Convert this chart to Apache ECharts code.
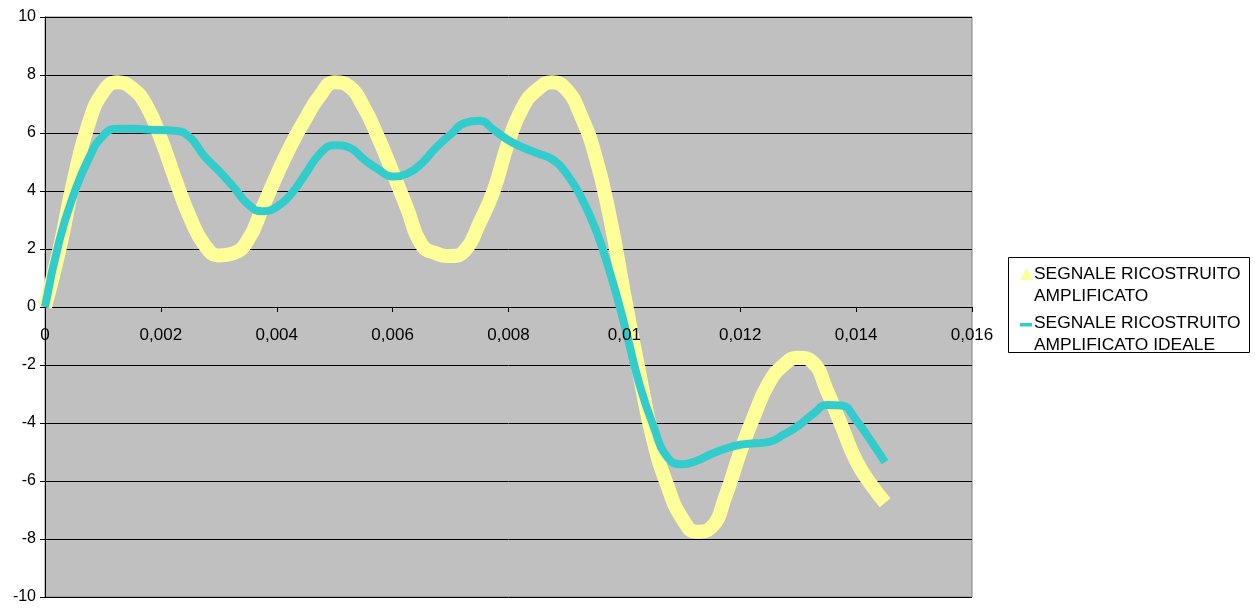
<!DOCTYPE html>
<html>
<head>
<meta charset="utf-8">
<script src="https://cdn.jsdelivr.net/npm/echarts@6/dist/echarts.min.js"></script>
<style>
html,body{margin:0;padding:0;background:#fff;}
#c{width:1255px;height:612px;}
</style>
</head>
<body>
<div id="c"></div>
<script>
// time samples (s)
const times = [0,0.00025,0.0005,0.00075,0.001,0.00125,0.0015,0.00175,0.002,0.00225,0.0025,0.00275,0.003,0.00325,0.0035,0.00375,0.004,0.00425,0.0045,0.00475,0.005,0.00525,0.0055,0.00575,0.006,0.00625,0.0065,0.00675,0.007,0.00725,0.0075,0.00775,0.008,0.00825,0.0085,0.00875,0.009,0.00925,0.0095,0.00975,0.01,0.01025,0.0105,0.01075,0.011,0.01125,0.0115,0.01175,0.012,0.01225,0.0125,0.01275,0.013,0.01325,0.0135,0.01375,0.014,0.01425,0.0145];
// SEGNALE RICOSTRUITO AMPLIFICATO
const amplified = [0,2.0,4.4,6.3,7.4,7.75,7.55,6.95,5.8,4.4,3.1,2.15,1.78,1.85,2.3,3.4,4.55,5.6,6.5,7.3,7.75,7.6,6.9,5.85,4.65,3.4,2.15,1.85,1.76,1.95,2.9,4.05,5.7,6.9,7.5,7.75,7.5,6.6,5.2,3.1,0.4,-2.2,-4.6,-6.2,-7.3,-7.75,-7.6,-6.5,-5.0,-3.7,-2.6,-2.0,-1.75,-1.9,-2.9,-4.1,-5.3,-6.1,-6.75];
// SEGNALE RICOSTRUITO AMPLIFICATO IDEALE
const ideal = [0,2.3,3.9,5.1,5.9,6.15,6.15,6.12,6.1,6.08,5.85,5.2,4.7,4.15,3.55,3.3,3.45,3.9,4.6,5.3,5.58,5.5,5.1,4.75,4.5,4.6,4.95,5.5,5.95,6.35,6.42,6.1,5.75,5.5,5.3,5.1,4.6,3.8,2.7,1.2,-0.6,-2.6,-4.1,-5.2,-5.42,-5.3,-5.07,-4.88,-4.75,-4.7,-4.65,-4.4,-4.1,-3.7,-3.38,-3.4,-3.9,-4.6,-5.35];
const seriesNames = ['SEGNALE RICOSTRUITO\nAMPLIFICATO','SEGNALE RICOSTRUITO\nAMPLIFICATO IDEALE'];
const legendLines = [['SEGNALE RICOSTRUITO','AMPLIFICATO'],['SEGNALE RICOSTRUITO','AMPLIFICATO IDEALE']];
const xTicks = {min:0, max:0.016, interval:0.002};
const yTicks = {min:-10, max:10, interval:2};
const colors = ['#FFFF99','#33CCCC'];

const pair = arr => times.map((t,i)=>[t,arr[i]]);
const chart = echarts.init(document.getElementById('c'), null, {renderer:'canvas'});
const fontFam = 'Liberation Sans, Arial, sans-serif';
const G = {left:45, top:17, right:283, bottom:15};
const plotH = 612 - G.top - G.bottom;
const zeroOffset = -plotH * (0 - yTicks.min) / (yTicks.max - yTicks.min);
const xFmt = v=> v===0?'0':String(+v.toFixed(3)).replace('.',',');

const txt = (x,y,s)=>({type:'text', left:x, top:y, style:{text:s, fill:'#000', font:'17.4px '+fontFam}});
chart.setOption({
  animation:false,
  backgroundColor:'#ffffff',
  grid:{left:G.left, top:G.top, right:G.right, bottom:G.bottom, show:true, backgroundColor:'#C0C0C0', borderColor:'#808080', borderWidth:1, outerBoundsMode:'none', containLabel:false},
  xAxis:[
    {type:'value', min:xTicks.min, max:xTicks.max, interval:xTicks.interval, position:'bottom', offset:zeroOffset,
     axisLine:{onZero:false, lineStyle:{color:'#000', width:1}},
     axisTick:{show:true, length:5, lineStyle:{color:'#000'}},
     axisLabel:{show:false},
     splitLine:{show:false}},
    {type:'value', min:xTicks.min, max:xTicks.max, interval:xTicks.interval, position:'bottom', offset:zeroOffset, z:10,
     axisLine:{show:false, onZero:false}, axisTick:{show:false},
     axisLabel:{color:'#000', fontSize:17, fontFamily:fontFam, margin:20, formatter:xFmt},
     splitLine:{show:false}}
  ],
  yAxis:{type:'value', min:yTicks.min, max:yTicks.max, interval:yTicks.interval,
    axisLine:{show:true, onZero:false, lineStyle:{color:'#000', width:1}},
    axisTick:{show:true, length:5, lineStyle:{color:'#000'}},
    axisLabel:{color:'#000', fontSize:16, fontFamily:fontFam, margin:9},
    splitLine:{show:true, lineStyle:{color:'#000', width:1}}},
  legend:{show:false, data:seriesNames},
  graphic:[
    {type:'rect', shape:{x:1008.5, y:257.5, width:241, height:95}, style:{fill:'#fff', stroke:'#000', lineWidth:1}},
    {type:'polygon', shape:{points:[[1026.5,268],[1020,280],[1033,280]]}, style:{fill:colors[0]}},
    {type:'rect', shape:{x:1020, y:323, width:12, height:3.5}, style:{fill:colors[1]}},
    txt(1034,266,legendLines[0][0]),
    txt(1034,288,legendLines[0][1]),
    txt(1034,315,legendLines[1][0]),
    txt(1034,337,legendLines[1][1])
  ],
  series:[
    {name:seriesNames[0], type:'line', xAxisIndex:0, data:pair(amplified), smooth:0.5, symbol:'none',
     color:colors[0], lineStyle:{color:colors[0], width:14, cap:'butt', join:'round'}},
    {name:seriesNames[1], type:'line', xAxisIndex:0, data:pair(ideal), smooth:0.5, symbol:'none',
     color:colors[1], lineStyle:{color:colors[1], width:8, cap:'butt', join:'round'}}
  ]
});
</script>
</body>
</html>
